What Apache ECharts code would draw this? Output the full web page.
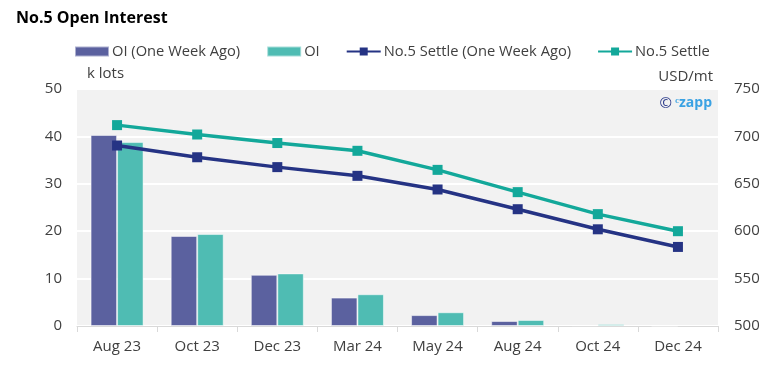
<!DOCTYPE html>
<html><head><meta charset="utf-8">
<script src="https://cdn.jsdelivr.net/npm/echarts@6/dist/echarts.min.js"></script>
<style>html,body{margin:0;padding:0;background:#fff}#c{width:776px;height:375px}</style>
</head><body><div id="c"></div>
<script>
const categories = ['Aug 23','Oct 23','Dec 23','Mar 24','May 24','Aug 24','Oct 24','Dec 24'];
const oiWeekAgo = [40.3, 19.0, 10.8, 6.0, 2.3, 1.05, 0.15, 0.05];
const oi = [38.8, 19.4, 11.1, 6.7, 2.9, 1.27, 0.4, 0.2];
const settleWeekAgo = [690.4, 678, 667.6, 658.4, 644, 623.2, 602, 583.4];
const settle = [711.9, 702, 693, 684.8, 664.7, 641.2, 618, 600];
const leftTicks = [0, 50, 10];
const rightTicks = [500, 750, 50];

const font = 'Open Sans';
const chart = echarts.init(document.getElementById('c'), null, {renderer:'canvas'});
chart.setOption({
  animation:false,
  textStyle:{fontFamily:font},
  title:{text:'No.5 Open Interest', left:11, top:5, textStyle:{fontFamily:font, fontSize:16, fontWeight:'bold', color:'#000'}},
  legend:{top:39, left:69, itemWidth:34, itemHeight:10, itemGap:26,
    textStyle:{fontFamily:font, fontSize:14.7, color:'#404040', padding:[0,0,0,-2]},
    data:[{name:'OI (One Week Ago)', icon:'rect'},{name:'OI', icon:'rect'},'No.5 Settle (One Week Ago)','No.5 Settle']},
  grid:{left:77, right:58, top:89, bottom:49, show:true, backgroundColor:'#f2f2f2', borderWidth:0},
  xAxis:{type:'category', data:categories,
    axisLine:{lineStyle:{color:'#d9d9d9'}},
    axisTick:{show:true, length:6, lineStyle:{color:'#d9d9d9'}},
    axisLabel:{fontFamily:font, fontSize:15, color:'#404040', margin:13}},
  yAxis:[
    {type:'value', min:leftTicks[0], max:leftTicks[1], interval:leftTicks[2],
     axisLabel:{fontFamily:font, fontSize:15, color:'#404040', margin:15},
     splitLine:{lineStyle:{color:'#ffffff', width:2}}, axisLine:{show:false}, axisTick:{show:false}},
    {type:'value', min:rightTicks[0], max:rightTicks[1], interval:rightTicks[2],
     axisLabel:{fontFamily:font, fontSize:15, color:'#404040', margin:16},
     splitLine:{show:false}, axisLine:{show:false}, axisTick:{show:false}}
  ],
  series:[
    {name:'OI (One Week Ago)', type:'bar', data:oiWeekAgo, barWidth:26.5, barGap:'0%',
     itemStyle:{color:'#5b619f', borderColor:'rgba(255,255,255,0.5)', borderWidth:1}},
    {name:'OI', type:'bar', data:oi, barWidth:26.5,
     itemStyle:{color:'#4fbcb3', borderColor:'rgba(255,255,255,0.5)', borderWidth:1}},
    {name:'No.5 Settle (One Week Ago)', type:'line', yAxisIndex:1, data:settleWeekAgo,
     symbol:'rect', symbolSize:10, lineStyle:{color:'#253384', width:3.5}, itemStyle:{color:'#253384'}},
    {name:'No.5 Settle', type:'line', yAxisIndex:1, data:settle,
     symbol:'rect', symbolSize:10, lineStyle:{color:'#13a89a', width:3.5}, itemStyle:{color:'#13a89a'}}
  ],
  graphic:[
    {type:'text', left:87, top:66, style:{text:'k lots', fontFamily:font, fontSize:15, fill:'#404040'}},
    {type:'text', right:63, top:69, style:{text:'USD/mt', fontFamily:font, fontSize:15, fill:'#404040'}},
    {type:'text', right:104, top:96, style:{text:'©', fontFamily:font, fontSize:15, fill:'#2b3a8a'}},
    {type:'text', right:64, top:96, style:{text:'ᶜzapp', fontFamily:font, fontSize:14, fontWeight:'bold', fill:'#3aa2e3'}}
  ]
});
</script></body></html>
